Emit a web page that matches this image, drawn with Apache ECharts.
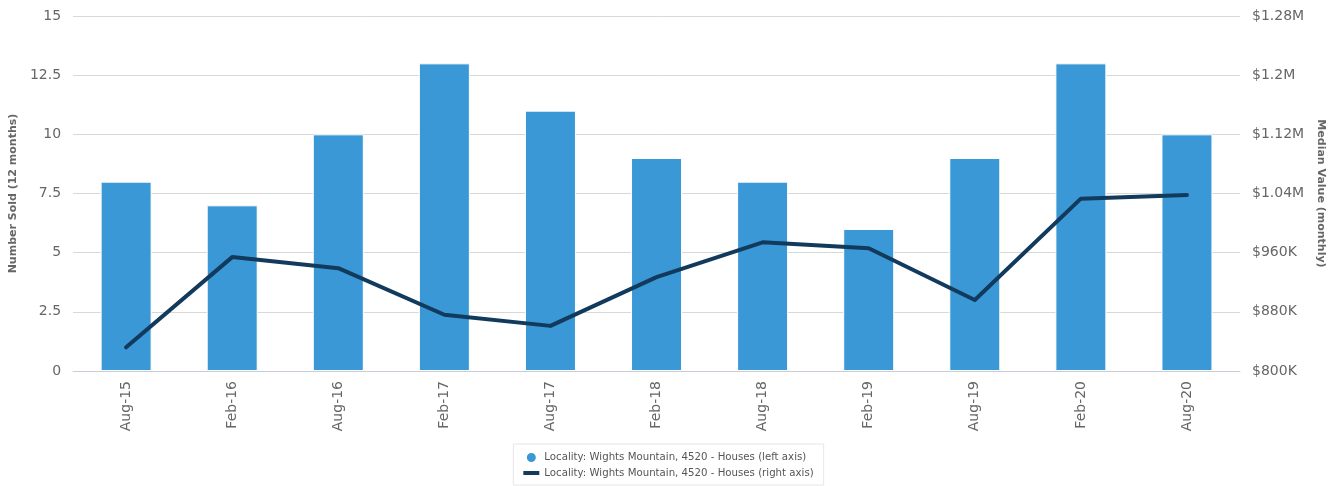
<!DOCTYPE html>
<html>
<head>
<meta charset="utf-8">
<script src="https://cdn.jsdelivr.net/npm/echarts@6/dist/echarts.min.js"></script>
<style>
  html, body { margin: 0; padding: 0; background: #fff; }
  #chart { width: 1337px; height: 486px; }
</style>
</head>
<body>
<div id="chart"></div>
<script>
const months = ['Aug-15', 'Feb-16', 'Aug-16', 'Feb-17', 'Aug-17', 'Feb-18', 'Aug-18', 'Feb-19', 'Aug-19', 'Feb-20', 'Aug-20'];
const numberSold = [8, 7, 10, 13, 11, 9, 8, 6, 9, 13, 10];
const medianValue = [832000, 954000, 939000, 876000, 861000, 927000, 974000, 966000, 896000, 1033000, 1038000];

const barName = 'Locality: Wights Mountain, 4520 - Houses (left axis)';
const lineName = 'Locality: Wights Mountain, 4520 - Houses (right axis)';

const fmtMoney = (v) => {
  if (v >= 1000000) return '$' + parseFloat((v / 1000000).toFixed(2)) + 'M';
  return '$' + Math.round(v / 1000) + 'K';
};

const chart = echarts.init(document.getElementById('chart'));
chart.setOption({
  animation: false,
  textStyle: { fontFamily: 'DejaVu Sans' },
  grid: { left: 71, right: 97, top: 16, bottom: 115 },
  legend: {
    bottom: 1,
    left: 'center',
    orient: 'vertical',
    itemGap: 4,
    itemWidth: 16,
    itemHeight: 11,
    padding: [7, 10, 7, 10],
    borderColor: '#e6e6e6',
    borderWidth: 1,
    textStyle: { fontSize: 10.2, color: '#555' },
    data: [
      { name: barName, icon: 'circle' },
      { name: lineName, icon: 'path://M0,0 L16,0 L16,4 L0,4 Z' }
    ]
  },
  xAxis: {
    type: 'category',
    data: months,
    axisLine: { lineStyle: { color: '#c8ccd6' } },
    axisTick: { alignWithLabel: true, length: 8, lineStyle: { color: '#c8d6ea' } },
    axisLabel: { rotate: 90, fontSize: 14, color: '#666', margin: 10 }
  },
  yAxis: [
    {
      type: 'value',
      min: 0,
      max: 15,
      interval: 2.5,
      name: 'Number Sold (12 months)',
      nameLocation: 'middle',
      nameGap: 50,
      nameTextStyle: { fontSize: 11, fontWeight: 'bold', color: '#666' },
      axisLabel: { fontSize: 14, color: '#666', margin: 12 },
      axisLine: { show: false },
      splitLine: { lineStyle: { color: '#d8d8d8' } }
    },
    {
      type: 'value',
      min: 800000,
      max: 1280000,
      interval: 80000,
      name: 'Median Value (monthly)',
      nameLocation: 'middle',
      nameGap: 70,
      nameRotate: -90,
      nameTextStyle: { fontSize: 11, fontWeight: 'bold', color: '#666' },
      axisLabel: { fontSize: 14, color: '#666', margin: 12, formatter: fmtMoney },
      axisLine: { show: false },
      splitLine: { show: false }
    }
  ],
  series: [
    {
      name: barName,
      type: 'bar',
      data: numberSold,
      barWidth: 51,
      itemStyle: { color: '#3a98d6', borderColor: '#ffffff', borderWidth: 1 }
    },
    {
      name: lineName,
      type: 'line',
      yAxisIndex: 1,
      data: medianValue,
      showSymbol: false,
      symbol: 'none',
      lineStyle: { color: '#123a5c', width: 4, cap: 'round', join: 'round' },
      itemStyle: { color: '#123a5c' }
    }
  ]
});
</script>
</body>
</html>
